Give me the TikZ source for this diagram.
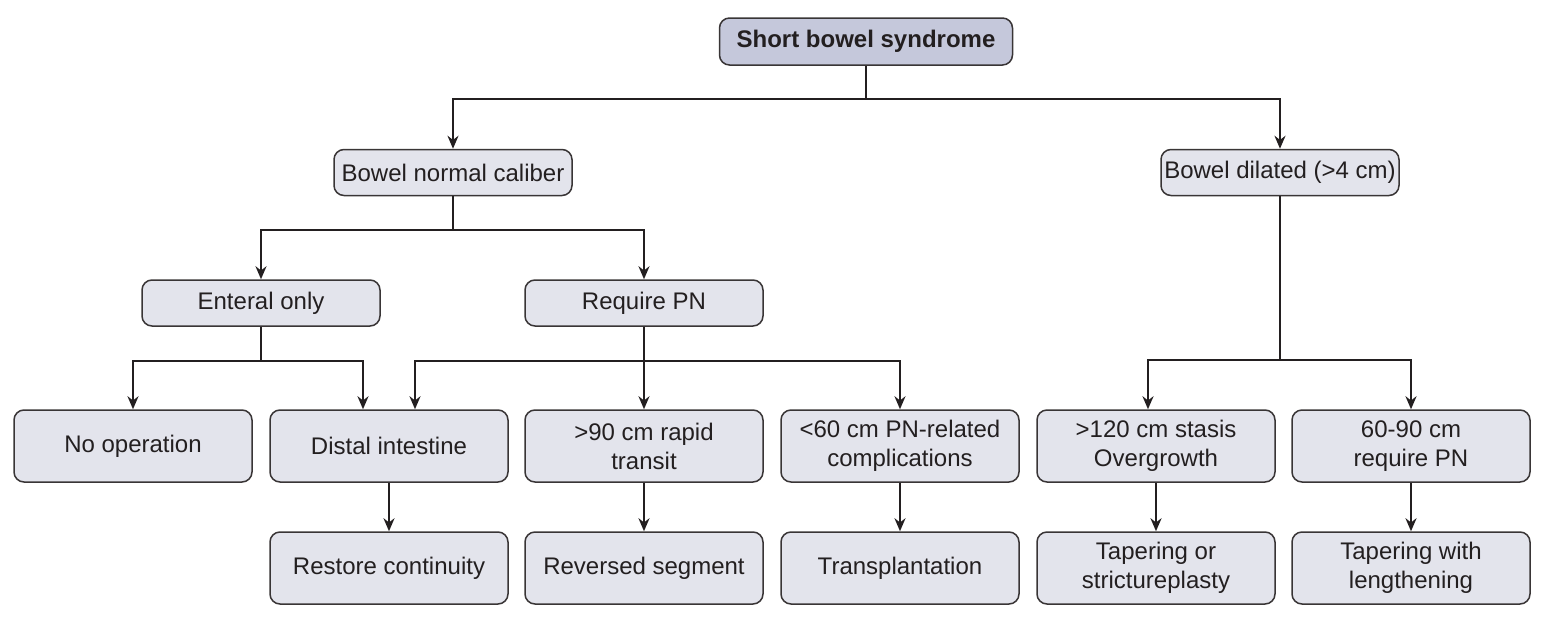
\documentclass[tikz,border=0pt]{standalone}
\usepackage{fontspec}
\setmainfont{Liberation Sans}
\usetikzlibrary{arrows.meta}
\definecolor{boxfill}{RGB}{227,228,236}
\definecolor{topfill}{RGB}{197,200,219}
\definecolor{ink}{RGB}{35,31,32}
\begin{document}
\begin{tikzpicture}[x=0.5pt,y=-0.5pt,>={Stealth[length=6.5pt,width=5.5pt]},
	box/.style={draw=ink!90,line width=0.75pt,fill=boxfill,rounded corners=5pt,
		minimum width=119pt,minimum height=36pt,inner xsep=1pt,align=center,
		text=ink,font=\fontsize{12}{14.5}\selectfont},
	small/.style={box,minimum height=23pt},
	link/.style={draw=ink,line width=1.25pt}]
	\useasboundingbox (0,0) rectangle (1544,622);
	\path
	(866,99) coordinate (J0)
	(453,230) coordinate (J1)
	(261,361) coordinate (J2)
	(644,361) coordinate (J3)
	(1280,360) coordinate (J4)
	;
	\node[small,fill=topfill,minimum width=146.5pt,minimum height=23.5pt,font=\fontsize{12}{14.5}\selectfont\bfseries] (sbs) at (866,41.5) {Short bowel syndrome};
	\node[small] (bnc) at (453,172.5) {Bowel normal caliber};
	\node[small] (bd) at (1280,172.5) {Bowel dilated (>4 cm)};
	\node[small] (ent) at (261,303) {Enteral only};
	\node[small] (rpn) at (644,303) {Require PN};
	% third row
	\node[box] (noop) at (133,446) {No operation};
	\node[box] (dist) at (389,446) {Distal intestine};
	\node[box] (r90) at (644,446) {>90 cm rapid\\transit};
	\node[box] (l60) at (900,446) {<60 cm PN-related\\complications};
	\node[box] (o120) at (1156,446) {>120 cm stasis\\Overgrowth};
	\node[box] (g6090) at (1411,446) {60-90 cm\\require PN};
	% operations
	\node[box] (rest) at (389,568) {Restore continuity};
	\node[box] (rev) at (644,568) {Reversed segment};
	\node[box] (trans) at (900,568) {Transplantation};
	\node[box] (tap) at (1156,568) {Tapering or\\strictureplasty};
	\node[box] (tapl) at (1411,568) {Tapering with\\lengthening};
	\draw[link] (sbs.south) -- (J0);
	\draw[link,->] (J0) -| (bnc);
	\draw[link,->] (J0) -| (bd);
	\draw[link] (bnc.south) -- (J1);
	\draw[link,->] (J1) -| (ent);
	\draw[link,->] (J1) -| (rpn);
	\draw[link] (ent.south) -- (J2);
	\draw[link,->] (J2) -| (noop);
	\draw[link,->] (J2) -| ([xshift=-13pt]dist.north);
	\draw[link] (rpn.south) -- (J3);
	\draw[link,->] (J3) -| ([xshift=13pt]dist.north);
	\draw[link,->] (J3) -- (r90);
	\draw[link,->] (J3) -| (l60);
	\draw[link] (bd.south) -- (J4);
	\draw[link,->] (J4) -| ([xshift=-4pt]o120.north);
	\draw[link,->] (J4) -| (g6090);
	\foreach \a/\b in {dist/rest,r90/rev,l60/trans,o120/tap,g6090/tapl}\draw[link,->] (\a) -- (\b);
\end{tikzpicture}
\end{document}
